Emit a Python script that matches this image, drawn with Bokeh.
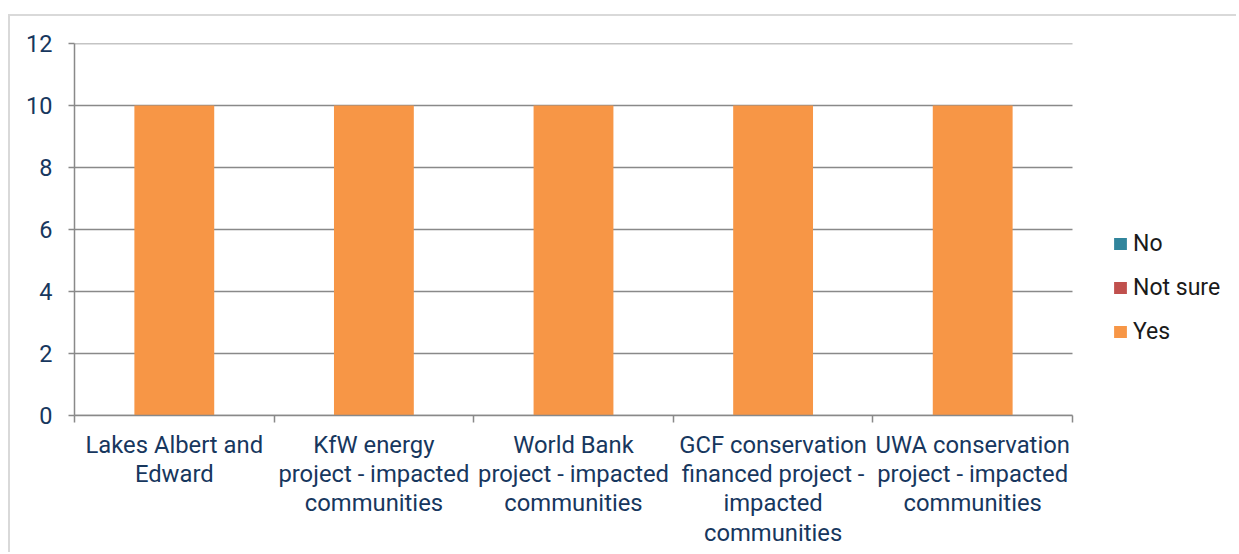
from bokeh.plotting import figure
from bokeh.models import Range1d, FixedTicker, Legend, LegendItem, ColumnDataSource
from bokeh.embed import file_html
from bokeh.resources import INLINE

# ---- data ----
categories = [
    "Lakes Albert and\nEdward",
    "KfW energy\nproject - impacted\ncommunities",
    "World Bank\nproject - impacted\ncommunities",
    "GCF conservation\nfinanced project -\nimpacted\ncommunities",
    "UWA conservation\nproject - impacted\ncommunities",
]
series = ["No", "Not sure", "Yes"]
no_values = [0, 0, 0, 0, 0]
not_sure_values = [0, 0, 0, 0, 0]
yes_values = [10, 10, 10, 10, 10]
y_ticks = [0, 2, 4, 6, 8, 10, 12]
colors = ["#31859C", "#C0504D", "#F79646"]

FONT = "Roboto"
LABEL_COLOR = "#17375E"
LINE_COLOR = "#898989"

n = len(categories)
centers = [i + 0.5 for i in range(n)]
bounds = list(range(n + 1))

# the frame is widened to the right so the legend (outside the category area) is not clipped
FRAME_PX = 1157      # full frame width in pixels
PLOT_PX = 998        # width in pixels occupied by the categories
x_end = n * FRAME_PX / PLOT_PX

source = ColumnDataSource(data={
    "x": centers,
    "No": no_values,
    "Not sure": not_sure_values,
    "Yes": yes_values,
})
grid_source = ColumnDataSource(data={
    "y": y_ticks,
    "x0": [0] * len(y_ticks),
    "x1": [n] * len(y_ticks),
})

p = figure(
    width=1228, height=538,
    x_range=Range1d(0, x_end), y_range=Range1d(0, 12),
    output_backend="svg", toolbar_location=None,
    min_border_left=64, min_border_top=27, min_border_bottom=139, min_border_right=7,
)
p.margin = (14, 0, 0, 8)
p.styles = {"border-left": "2px solid #d9d9d9", "border-top": "2px solid #d9d9d9"}
p.outline_line_color = None
p.background_fill_color = "white"
p.border_fill_color = "white"

# horizontal gridlines limited to the category area
p.segment(x0="x0", x1="x1", y0="y", y1="y", source=grid_source,
          line_color=LINE_COLOR, line_width=1.5, level="underlay")

renderers = p.vbar_stack(series, x="x", width=0.4, fill_color=colors, line_color=None, source=source)

# y axis
p.yaxis.ticker = FixedTicker(ticks=y_ticks)
p.yaxis.axis_line_color = LINE_COLOR
p.yaxis.axis_line_width = 1.5
p.yaxis.major_tick_line_color = LINE_COLOR
p.yaxis.major_tick_line_width = 1.5
p.yaxis.major_tick_out = 6
p.yaxis.major_tick_in = 0
p.yaxis.minor_tick_line_color = None
p.yaxis.major_label_text_font = FONT
p.yaxis.major_label_text_font_size = "23.5px"
p.yaxis.major_label_text_color = LABEL_COLOR
p.yaxis.major_label_standoff = 16

# x axis: labels at centers, ticks at category boundaries
p.xaxis.bounds = (0, n)
p.xaxis.ticker = FixedTicker(ticks=centers, minor_ticks=bounds)
p.xaxis.major_label_overrides = {c: lab for c, lab in zip(centers, categories)}
p.xaxis.axis_line_color = LINE_COLOR
p.xaxis.axis_line_width = 1.5
p.xaxis.major_tick_line_color = None
p.xaxis.major_tick_out = 0
p.xaxis.major_tick_in = 0
p.xaxis.minor_tick_line_color = LINE_COLOR
p.xaxis.minor_tick_line_width = 1.5
p.xaxis.minor_tick_out = 7
p.xaxis.minor_tick_in = 0
p.xaxis.major_label_text_font = FONT
p.xaxis.major_label_text_font_size = "23.8px"
p.xaxis.major_label_text_color = LABEL_COLOR
p.xaxis.major_label_text_line_height = 1.05
p.xaxis.major_label_standoff = 8

p.xgrid.grid_line_color = None
p.ygrid.grid_line_color = None

legend = Legend(
    items=[LegendItem(label=s, renderers=[r]) for s, r in zip(series, renderers)],
    location=(1038, 70),
    orientation="vertical",
    padding=0, margin=0,
    border_line_color=None, background_fill_alpha=0,
    glyph_width=16, glyph_height=15, label_height=24, spacing=17,
    label_standoff=5,
    label_text_font=FONT, label_text_font_size="23px", label_text_color="#1a1a1a",
)
p.add_layout(legend, "center")

open("out.html", "w").write(file_html(p, INLINE))
